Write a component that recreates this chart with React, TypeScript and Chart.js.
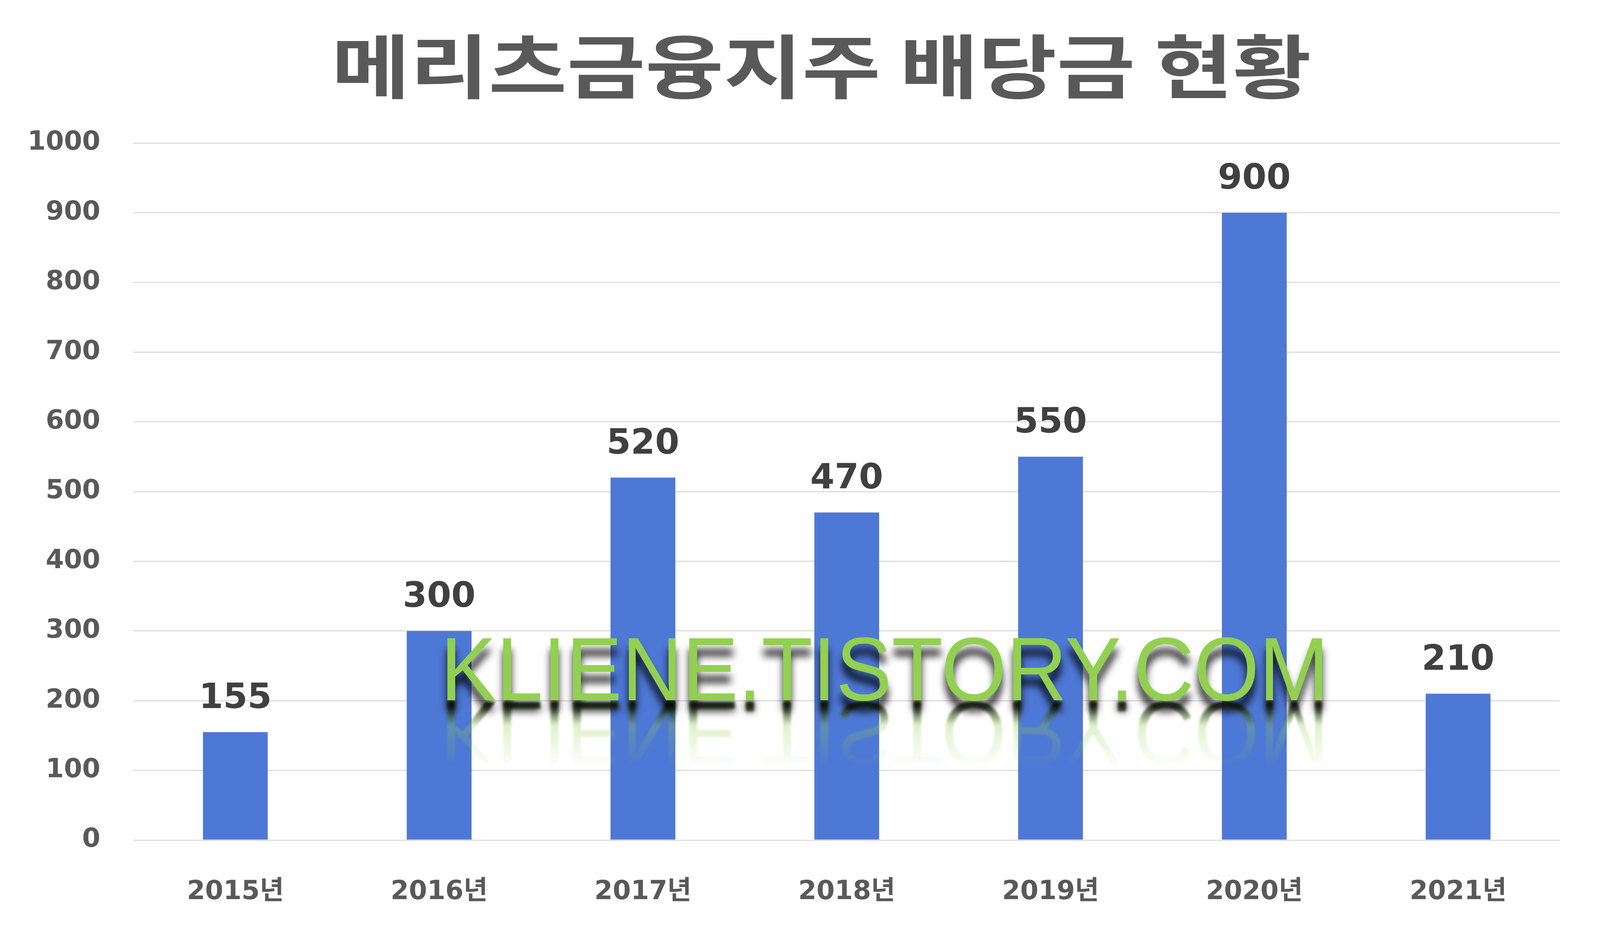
import React, { useEffect, useRef } from "react";
import { Chart, registerables } from "chart.js";

Chart.register(...registerables);

const chartTitle = "메리츠금융지주 배당금 현황";
const watermarkText = "KLIENE.TISTORY.COM";
const years = ["2015년", "2016년", "2017년", "2018년", "2019년", "2020년", "2021년"];
const dividends = [155, 300, 520, 470, 550, 900, 210];
const yMin = 0;
const yMax = 1000;
const yStep = 100;

const NUM_FONT = "'DejaVu Sans', 'Noto Sans CJK KR', sans-serif";
const MARK_FONT = "'Liberation Sans Narrow', 'Liberation Sans', sans-serif";

// everything below is laid out for a 4400x2403 page; k / ky rescale to the real viewport
let k = 1;
let ky = 1;

// big stretched title at the top
const titlePlugin = {
  id: "bigTitle",
  afterDraw(chart: any) {
    const ctx = chart.ctx as CanvasRenderingContext2D;
    ctx.save();
    ctx.font = "bold 100px 'Noto Sans CJK KR'";
    let m = ctx.measureText(chartTitle);
    const size = (100 * 169 * ky) / (m.actualBoundingBoxAscent + m.actualBoundingBoxDescent);
    ctx.font = `bold ${size}px 'Noto Sans CJK KR'`;
    m = ctx.measureText(chartTitle);
    const sx = (2694 * k) / m.width;
    ctx.translate(2259 * k, 170 * ky);
    ctx.scale(sx, 1);
    ctx.fillStyle = "#595959";
    ctx.textAlign = "center";
    ctx.textBaseline = "alphabetic";
    ctx.fillText(chartTitle, 0, (m.actualBoundingBoxAscent - m.actualBoundingBoxDescent) / 2);
    ctx.restore();
  },
};

// value above each bar
const valueLabels = {
  id: "valueLabels",
  afterDatasetsDraw(chart: any) {
    const ctx = chart.ctx as CanvasRenderingContext2D;
    const meta = chart.getDatasetMeta(0);
    ctx.save();
    ctx.font = `bold ${96 * k}px ${NUM_FONT}`;
    ctx.fillStyle = "#404040";
    ctx.textAlign = "center";
    ctx.textBaseline = "middle";
    meta.data.forEach((bar: any, i: number) => {
      ctx.fillText(String(dividends[i]), bar.x, bar.y - 85 * ky);
    });
    ctx.restore();
  },
};

// green blog watermark with shadow + reflection
const watermark = {
  id: "watermark",
  afterDraw(chart: any) {
    const ctx = chart.ctx as CanvasRenderingContext2D;
    const cx = 2433 * k;
    const base = 1792 * ky;
    ctx.save();
    ctx.font = `100px ${MARK_FONT}`;
    let m = ctx.measureText(watermarkText);
    const size = (100 * 163 * ky) / m.actualBoundingBoxAscent;
    ctx.font = `${size}px ${MARK_FONT}`;
    m = ctx.measureText(watermarkText);
    const sx = (2443 * k) / m.width;
    ctx.textAlign = "center";
    ctx.textBaseline = "alphabetic";

    // reflection
    ctx.save();
    ctx.translate(cx, base + 4 * ky);
    ctx.scale(sx, -1);
    ctx.filter = `blur(${2 * k}px)`;
    const g = ctx.createLinearGradient(0, 0, 0, -170 * ky);
    g.addColorStop(0, "rgba(146,208,80,0.45)");
    g.addColorStop(1, "rgba(146,208,80,0)");
    ctx.fillStyle = g;
    ctx.fillText(watermarkText, 0, 0);
    const d = ctx.createLinearGradient(0, 0, 0, -60 * ky);
    d.addColorStop(0, "rgba(0,0,0,0.85)");
    d.addColorStop(1, "rgba(0,0,0,0)");
    ctx.filter = `blur(${4 * k}px)`;
    ctx.fillStyle = d;
    ctx.fillText(watermarkText, 0, 0);
    ctx.restore();

    // main text with dark drop shadow
    ctx.translate(cx, base);
    ctx.scale(sx, 1);
    ctx.shadowColor = "rgba(0,0,0,0.85)";
    ctx.shadowBlur = 22 * k;
    ctx.shadowOffsetY = 28 * ky;
    ctx.fillStyle = "#92D050";
    ctx.fillText(watermarkText, 0, 0);
    ctx.restore();
  },
};

const App: React.FC = () => {
  const canvasRef = useRef<HTMLCanvasElement | null>(null);

  useEffect(() => {
    document.body.style.margin = "0";
    k = window.innerWidth / 4400;
    ky = window.innerHeight / 2403;
    let chart: Chart | undefined;
    if (canvasRef.current) {
      chart = new Chart(canvasRef.current, {
        type: "bar",
        data: {
          labels: years,
          datasets: [
            {
              label: "배당금",
              data: dividends,
              backgroundColor: "#4E78D5",
              barPercentage: 0.318,
              categoryPercentage: 1,
            },
          ],
        },
        options: {
          animation: false,
          responsive: true,
          maintainAspectRatio: false,
          layout: { padding: { top: 366 * ky, right: 110 * k, left: 0, bottom: 0 } },
          plugins: {
            legend: { display: false },
            title: { display: false },
            tooltip: { enabled: false },
          },
          scales: {
            x: {
              grid: { display: false, drawTicks: false },
              border: { display: false },
              ticks: {
                color: "#595959",
                padding: 93 * ky,
                font: { family: NUM_FONT, size: 72 * k, weight: "bold" },
              },
              afterFit: (scale: any) => {
                scale.height = 253 * ky;
              },
            },
            y: {
              min: yMin,
              max: yMax,
              grid: { color: "#d9d9d9", lineWidth: 3 * k, drawTicks: false },
              border: { display: false },
              ticks: {
                stepSize: yStep,
                color: "#595959",
                padding: 91 * k,
                font: { family: NUM_FONT, size: 72 * k, weight: "bold" },
                callback: (v: any) => String(v),
              },
              afterFit: (scale: any) => {
                scale.width = 367 * k;
              },
            },
          },
        },
        plugins: [titlePlugin, valueLabels, watermark],
      });
    }
    return () => {
      chart?.destroy();
    };
  }, []);

  return (
    <div style={{ position: "fixed", inset: 0, background: "#fff" }}>
      <canvas ref={canvasRef}></canvas>
    </div>
  );
};

export default App;
